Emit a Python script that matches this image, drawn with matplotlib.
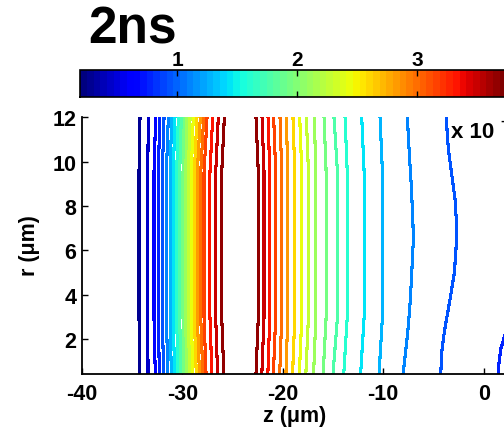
import numpy as np
import matplotlib.pyplot as plt
from matplotlib import cm, colors

plt.rcParams['font.family'] = 'Liberation Sans'
plt.rcParams['font.weight'] = 'bold'
plt.rcParams['axes.unicode_minus'] = False

# contour levels (x 10^-7) and colour limits
levels = [0.25, 0.42, 0.59, 0.76, 0.93, 1.10, 1.27, 1.44, 1.61, 1.78, 1.95,
          2.12, 2.29, 2.46, 2.63, 2.80, 2.97, 3.14, 3.31, 3.48, 3.65]
c_lim = (0.194, 3.74)
cbar_ticks = [1, 2, 3]

# r positions where the near-straight contours are sampled (bottom, mid band, top)
r_knots = [0.42, 3.0, 9.5, 12.0]

# rising edge: z of levels[0] .. levels[20]
left_bot = [-34.22, -33.40, -32.68, -32.28, -31.85, -31.42, -31.08, -30.76, -30.43, -30.13, -29.83,
            -29.56, -29.26, -28.94, -28.60, -28.28, -27.95, -27.63, -27.05, -26.48, -25.86]
left_mid = [-34.30, -33.43, -32.81, -32.37, -31.98, -31.58, -31.21, -30.89, -30.55, -30.25, -29.92,
            -29.65, -29.39, -29.10, -28.80, -28.50, -28.16, -27.83, -27.24, -26.67, -26.07]
left_top = [-34.20, -33.37, -32.64, -32.24, -31.81, -31.38, -31.04, -30.72, -30.39, -30.09, -29.79,
            -29.52, -29.22, -28.90, -28.53, -28.20, -27.86, -27.53, -26.97, -26.41, -25.81]

# falling edge: z of levels[20] down to levels[6]
right_bot = [-22.66, -22.08, -21.48, -20.93, -20.30, -19.68, -19.02, -18.35, -17.70, -16.93,
             -15.98, -15.00, -13.93, -12.25, -10.42]
right_mid = [-22.43, -21.86, -21.29, -20.70, -20.10, -19.50, -18.80, -18.10, -17.44, -16.70,
             -15.68, -14.55, -13.58, -11.90, -10.08]
right_top = [-22.66, -22.06, -21.46, -20.90, -20.27, -19.64, -18.98, -18.31, -17.65, -16.86,
             -15.89, -14.90, -13.80, -12.14, -10.32]

# outer contours that bend with r (levels[5], levels[4], levels[3])
lev5_r = [0.42, 0.80, 2.30, 3.80, 5.31, 6.51, 7.56, 9.06, 10.56, 12.0]
lev5_z = [-8.03, -7.93, -7.56, -7.30, -7.13, -7.00, -7.07, -7.23, -7.43, -7.60]
lev4_r = [0.42, 1.40, 2.00, 2.60, 3.80, 5.01, 6.06, 7.11, 8.31, 9.06, 10.56, 12.0]
lev4_z = [-4.28, -4.18, -4.02, -3.82, -3.35, -2.92, -2.76, -2.69, -2.86, -3.08, -3.52, -3.74]
lev3_r = [0.42, 0.95, 1.55, 2.15, 2.80]
lev3_z = [1.45, 1.52, 1.69, 2.09, 2.80]

cmap = plt.get_cmap('jet', 64)
norm = colors.Normalize(vmin=c_lim[0], vmax=c_lim[1])
lw = 1.5

fig = plt.figure(figsize=(5.04, 4.35), dpi=100)
ax = fig.add_axes([0.1621, 0.1379, 0.842, 0.590])

for i, lev in enumerate(levels):
    z = [left_bot[i], left_mid[i], left_mid[i], left_top[i]]
    ax.plot(z, r_knots, color=cmap(norm(lev)), lw=lw, antialiased=False)

for j in range(len(right_top)):
    lev = levels[len(levels) - 1 - j]
    z = [right_bot[j], right_mid[j], right_mid[j], right_top[j]]
    ax.plot(z, r_knots, color=cmap(norm(lev)), lw=lw, antialiased=False)

for rr, zz, lev in [(lev5_r, lev5_z, levels[5]), (lev4_r, lev4_z, levels[4]),
                    (lev3_r, lev3_z, levels[3])]:
    ax.plot(zz, rr, color=cmap(norm(lev)), lw=lw, antialiased=False)

ax.set_xlim(-40, 2.22)
ax.set_ylim(0.42, 12)
ax.set_xticks([-40, -30, -20, -10, 0])
ax.set_yticks([2, 4, 6, 8, 10, 12])
for s in ['top', 'right']:
    ax.spines[s].set_visible(False)
for s in ['left', 'bottom']:
    ax.spines[s].set_linewidth(1.3)
ax.tick_params(direction='in', length=4, width=1, labelsize=15.5)
ax.tick_params(axis='x', pad=6.5)
ax.tick_params(axis='y', pad=4)

# horizontal colour bar above the plot
cax = fig.add_axes([0.1593, 0.774, 0.845, 0.0628])
sm = cm.ScalarMappable(norm=norm, cmap=cmap)
cb = fig.colorbar(sm, cax=cax, orientation='horizontal', ticks=cbar_ticks)
cb.outline.set_linewidth(1.2)
cax.xaxis.set_ticks_position('both')
cax.tick_params(axis='x', direction='in', length=4, width=1, labeltop=True,
                labelbottom=False, labelsize=15, pad=0.5)

fig.text(88 / 504, 1 - 44 / 435, '2ns', fontsize=37, fontweight='bold', va='baseline')
fig.text(295 / 504, 1 - 422 / 435, 'z (\u03bcm)', fontsize=15.5, ha='center', va='baseline')
fig.text(30 / 504, 1 - 246 / 435, 'r (\u03bcm)', fontsize=15.5, ha='center', va='center',
         rotation=90)
fig.text(451 / 504, 1 - 137.5 / 435, 'x 10', fontsize=16, va='baseline')
fig.text(500 / 504, 1 - 125 / 435, '-7', fontsize=11, va='baseline')

fig.savefig('out.png', dpi=100)
